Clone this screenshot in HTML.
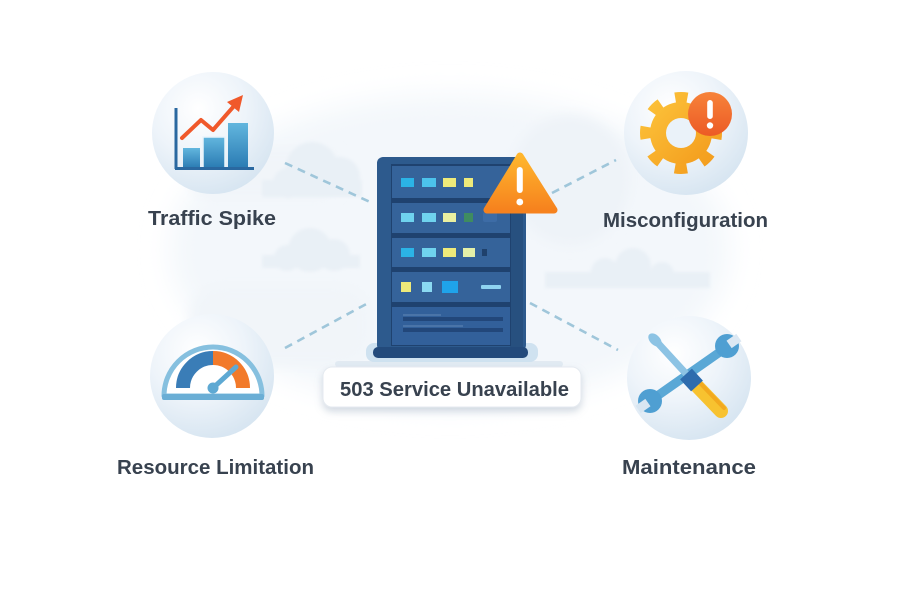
<!DOCTYPE html>
<html><head><meta charset="utf-8">
<style>html,body{margin:0;padding:0;background:#fff;width:900px;height:600px;overflow:hidden}svg{display:block}</style>
</head><body>
<svg width="900" height="600" viewBox="0 0 900 600" xmlns="http://www.w3.org/2000/svg">
<defs>
<filter id="blur12" x="-50%" y="-50%" width="200%" height="200%"><feGaussianBlur stdDeviation="14"/></filter>
<filter id="blur2" x="-30%" y="-30%" width="160%" height="160%"><feGaussianBlur stdDeviation="1.5"/></filter>
<filter id="blur6" x="-50%" y="-50%" width="200%" height="200%"><feGaussianBlur stdDeviation="6"/></filter>
<radialGradient id="sph" cx="0.38" cy="0.3" r="0.85">
 <stop offset="0" stop-color="#ffffff"/>
 <stop offset="0.45" stop-color="#eef4fa"/>
 <stop offset="1" stop-color="#cfe0ee"/>
</radialGradient>
<linearGradient id="bar" x1="0" y1="0" x2="0" y2="1"><stop offset="0" stop-color="#62b6de"/><stop offset="1" stop-color="#2a7bb3"/></linearGradient>
<linearGradient id="tri" x1="0" y1="0" x2="0" y2="1"><stop offset="0" stop-color="#ffb62d"/><stop offset="1" stop-color="#f6821e"/></linearGradient>
<linearGradient id="gearg" x1="0" y1="0" x2="1" y2="1"><stop offset="0" stop-color="#fcc23a"/><stop offset="1" stop-color="#f39b1c"/></linearGradient>
<linearGradient id="badge" x1="0" y1="0" x2="0" y2="1"><stop offset="0" stop-color="#f7833a"/><stop offset="1" stop-color="#ec5a25"/></linearGradient>
<filter id="shadow" x="-20%" y="-40%" width="140%" height="200%"><feDropShadow dx="0" dy="4" stdDeviation="4" flood-color="#7f93aa" flood-opacity="0.35"/></filter>
</defs>

<!-- background haze & clouds -->
<ellipse cx="450" cy="250" rx="280" ry="155" fill="#f3f7fb" filter="url(#blur12)"/>
<rect x="190" y="148" width="150" height="50" rx="20" fill="#f1f5f9" filter="url(#blur6)"/>
<rect x="190" y="285" width="180" height="80" rx="30" fill="#f1f5f9" filter="url(#blur6)"/>
<ellipse cx="570" cy="180" rx="60" ry="65" fill="#eef3f8" filter="url(#blur6)"/>
<g fill="#e9f0f6" filter="url(#blur2)">
 <circle cx="312" cy="168" r="26"/>
 <circle cx="340" cy="177" r="20"/>
 <circle cx="288" cy="183" r="15"/>
 <rect x="262" y="180" width="100" height="17"/>
 <circle cx="310" cy="250" r="22"/>
 <circle cx="334" cy="255" r="16"/>
 <circle cx="287" cy="258" r="13"/>
 <rect x="262" y="255" width="98" height="13"/>
 <circle cx="605" cy="272" r="14"/>
 <circle cx="633" cy="266" r="18"/>
 <circle cx="662" cy="274" r="12"/>
 <rect x="545" y="272" width="165" height="16"/>
</g>

<!-- dashed connectors -->
<g stroke="#9fc6da" stroke-width="2.6" stroke-dasharray="8 6" fill="none">
 <line x1="285" y1="163" x2="370" y2="202"/>
 <line x1="552" y1="193" x2="616" y2="160"/>
 <line x1="285" y1="348" x2="370" y2="302"/>
 <line x1="530" y1="303" x2="618" y2="350"/>
</g>

<!-- circles -->
<circle cx="213" cy="133" r="61" fill="url(#sph)"/>
<circle cx="686" cy="133" r="62" fill="url(#sph)"/>
<circle cx="212" cy="376" r="62" fill="url(#sph)"/>
<circle cx="689" cy="378" r="62" fill="url(#sph)"/>

<!-- Traffic chart -->
<rect x="183" y="148" width="17" height="20" fill="url(#bar)"/>
<rect x="203" y="137" width="22" height="31" fill="url(#bar)" stroke="#e8f4fb" stroke-width="1.5"/>
<rect x="228" y="123" width="20" height="45" fill="url(#bar)"/>
<line x1="176" y1="108" x2="176" y2="169" stroke="#2a68a0" stroke-width="3"/>
<line x1="175" y1="168.5" x2="254" y2="168.5" stroke="#2a68a0" stroke-width="3"/>
<polyline points="182,138 201,120 213,130 234,106" fill="none" stroke="#f0592b" stroke-width="4" stroke-linejoin="round" stroke-linecap="round"/>
<polygon points="243,95 239,112 227,102" fill="#f0592b"/>

<!-- Gear -->
<circle cx="681" cy="133" r="35" fill="none" stroke="url(#gearg)" stroke-width="12" stroke-dasharray="12 15.49" stroke-dashoffset="6"/>
<circle cx="681" cy="133" r="31" fill="url(#gearg)"/>
<circle cx="681" cy="133" r="15" fill="#eaf2f9"/>
<circle cx="710" cy="114" r="22" fill="url(#badge)"/>
<rect x="707.2" y="100" width="5.6" height="19" rx="2.8" fill="#fff"/>
<circle cx="710" cy="125.5" r="3.2" fill="#fff"/>

<!-- Gauge -->
<path d="M164,396 A49,49 0 0 1 262,396 Z" fill="#ffffff" stroke="#86c0df" stroke-width="5" stroke-linejoin="round"/>
<rect x="162" y="394" width="102" height="6" rx="2" fill="#6aaed5"/>
<path d="M183,388 A30,30 0 0 1 213,358" fill="none" stroke="#3a7db7" stroke-width="14"/>
<path d="M213,358 A30,30 0 0 1 243,388" fill="none" stroke="#f27a2a" stroke-width="14"/>
<line x1="213" y1="388" x2="236" y2="367" stroke="#5ea9d3" stroke-width="5" stroke-linecap="round"/>
<circle cx="213" cy="388" r="5.5" fill="#5ea9d3"/>

<!-- Tools -->
<g>
 <line x1="650" y1="401" x2="727" y2="347" stroke="#5aa8d6" stroke-width="9" stroke-linecap="round"/>
 <circle cx="650" cy="401" r="12" fill="#4f9fd2"/>
 <circle cx="727" cy="346" r="12" fill="#4f9fd2"/>
 <rect x="-6" y="-4.5" width="12" height="9" fill="#dce8f3" transform="translate(734,341) rotate(-35)"/>
 <rect x="-6" y="-4.5" width="12" height="9" fill="#d8e6f2" transform="translate(643,406) rotate(-35)"/>
</g>
<g>
 <line x1="656" y1="341" x2="690" y2="378" stroke="#8cc3e4" stroke-width="7" stroke-linecap="round"/>
 <ellipse cx="655" cy="340" rx="5" ry="8" fill="#8cc3e4" transform="rotate(-45 655 340)"/>
 <line x1="696" y1="385" x2="721" y2="411" stroke="#f7c230" stroke-width="14" stroke-linecap="round"/>
 <line x1="699" y1="382" x2="724" y2="408" stroke="#f2a91f" stroke-width="4" stroke-linecap="round"/>
 <line x1="686" y1="374" x2="697" y2="386" stroke="#2e6cae" stroke-width="16"/>
</g>

<!-- Server platform -->
<rect x="335" y="361" width="228" height="6" rx="3" fill="#e2ebf3"/>
<rect x="366" y="343" width="172" height="19" rx="8" fill="#cfe2f0"/>
<!-- Server body -->
<rect x="377" y="157" width="149" height="194" rx="6" fill="#2d5a8d"/>
<rect x="510" y="163" width="13" height="184" fill="#27507f"/>
<rect x="391" y="164" width="120" height="182" fill="#1f426f"/>
<rect x="392" y="166" width="118" height="32" fill="#35639a"/>
<rect x="392" y="203" width="118" height="30" fill="#35639a"/>
<rect x="392" y="238" width="118" height="29" fill="#35639a"/>
<rect x="392" y="272" width="118" height="30" fill="#35639a"/>
<rect x="392" y="307" width="118" height="38" fill="#32609a"/>
<!-- LEDs -->
<rect x="401" y="178" width="13" height="9" fill="#2bb3e6"/>
<rect x="422" y="178" width="14" height="9" fill="#4cc3ec"/>
<rect x="443" y="178" width="13" height="9" fill="#eeea7a"/>
<rect x="464" y="178" width="9" height="9" fill="#eeea7a"/>
<rect x="401" y="213" width="13" height="9" fill="#6fd3ee"/>
<rect x="422" y="213" width="14" height="9" fill="#6fd3ee"/>
<rect x="443" y="213" width="13" height="9" fill="#eaf0a0"/>
<rect x="464" y="213" width="9" height="9" fill="#3f8c60"/>
<rect x="483" y="212" width="14" height="10" rx="2" fill="#3d6ca6"/>
<rect x="401" y="248" width="13" height="9" fill="#2bb3e6"/>
<rect x="422" y="248" width="14" height="9" fill="#6fd3ee"/>
<rect x="443" y="248" width="13" height="9" fill="#eeea7a"/>
<rect x="463" y="248" width="12" height="9" fill="#e4f0a8"/>
<rect x="482" y="249" width="5" height="7" fill="#1f416c"/>
<rect x="401" y="282" width="10" height="10" fill="#eeea7a"/>
<rect x="422" y="282" width="10" height="10" fill="#8ad9f2"/>
<rect x="442" y="281" width="16" height="12" fill="#1fa3ea"/>
<rect x="481" y="285" width="20" height="4" rx="1" fill="#8fd3f0"/>
<rect x="403" y="314" width="38" height="2" fill="#4a74a8"/>
<rect x="403" y="317" width="100" height="4" fill="#22477a"/>
<rect x="403" y="325" width="60" height="2" fill="#4a74a8"/>
<rect x="403" y="328" width="100" height="4" fill="#22477a"/>
<!-- Base bar -->
<rect x="373" y="347" width="155" height="11" rx="5" fill="#234a7b"/>

<!-- Warning triangle -->
<path d="M520,156 L487,210 L554,210 Z" fill="url(#tri)" stroke="url(#tri)" stroke-width="7" stroke-linejoin="round"/>
<rect x="516.8" y="167" width="6" height="26" rx="3" fill="#fff"/>
<circle cx="519.8" cy="202" r="3.4" fill="#fff"/>

<!-- Label box -->
<rect x="323" y="367" width="258" height="40" rx="9" fill="#ffffff" stroke="#e5eaf0" stroke-width="1" filter="url(#shadow)"/>

<!-- Text -->
<g font-family="'Liberation Sans', sans-serif" font-weight="bold" font-size="20" fill="#38424f">
 <text x="148" y="225" textLength="128" lengthAdjust="spacingAndGlyphs">Traffic Spike</text>
 <text x="603" y="227" textLength="165" lengthAdjust="spacingAndGlyphs">Misconfiguration</text>
 <text x="117" y="474" textLength="197" lengthAdjust="spacingAndGlyphs">Resource Limitation</text>
 <text x="622" y="474" textLength="134" lengthAdjust="spacingAndGlyphs">Maintenance</text>
 <text x="340" y="396" textLength="229" lengthAdjust="spacingAndGlyphs">503 Service Unavailable</text>
</g>
</svg>
</body></html>
